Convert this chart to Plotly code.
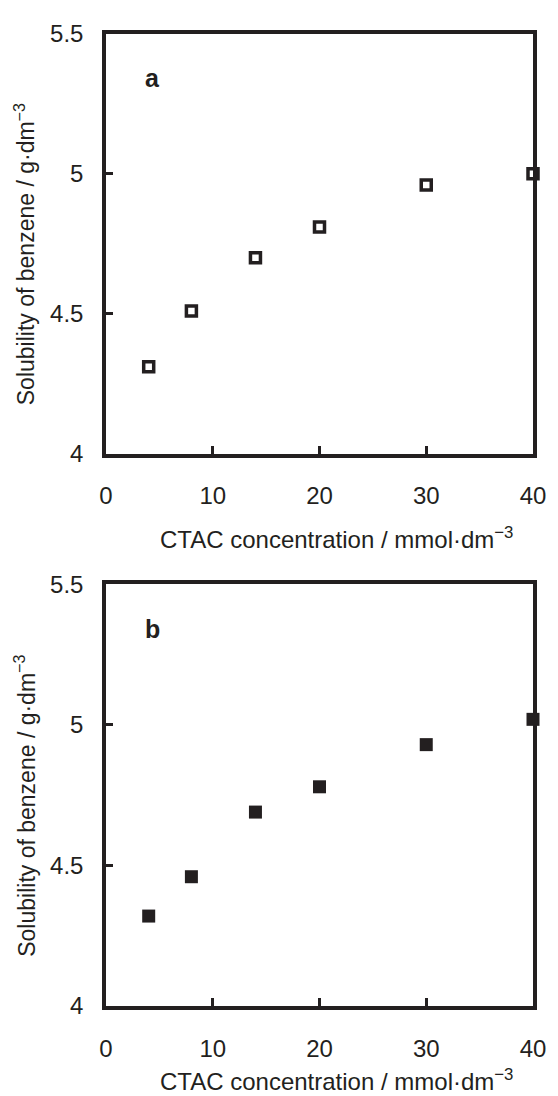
import plotly.graph_objects as go

# ---- data ----
ctac_a = [4, 8, 14, 20, 30, 40]
solub_a = [4.31, 4.51, 4.70, 4.81, 4.96, 5.00]
ctac_b = [4, 8, 14, 20, 30, 40]
solub_b = [4.32, 4.46, 4.69, 4.78, 4.93, 5.02]
x_ticks = [0, 10, 20, 30, 40]
y_ticks = [4, 4.5, 5, 5.5]
y_ticktext = ["4", "4.5", "5", "5.5"]
panel_labels = ["a", "b"]
x_title = "CTAC concentration / mmol·dm<sup>−3</sup>"
y_title = "Solubility of benzene / g·dm<sup>−3</sup>"

INK = "#231f20"
FONT = "Liberation Sans, Arial, sans-serif"

fig = go.Figure()
fig.add_trace(go.Scatter(
    x=ctac_a, y=solub_a, mode="markers", xaxis="x", yaxis="y",
    cliponaxis=False,
    marker=dict(symbol="square", size=10, color="white",
                line=dict(color=INK, width=3.5)),
    showlegend=False))
fig.add_trace(go.Scatter(
    x=ctac_b, y=solub_b, mode="markers", xaxis="x2", yaxis="y2",
    cliponaxis=False,
    marker=dict(symbol="square", size=13, color=INK,
                line=dict(color=INK, width=0)),
    showlegend=False))

xcommon = dict(range=[0, 40], tickvals=x_ticks, ticks="inside", ticklen=8,
               tickwidth=3, tickcolor=INK, showline=True, linewidth=3.5,
               linecolor=INK, mirror=True, showgrid=False, zeroline=False,
               tickfont=dict(family=FONT, size=24, color=INK),
               ticklabelstandoff=18)
ycommon = dict(range=[4, 5.5], tickvals=y_ticks, ticktext=y_ticktext,
               ticks="inside", ticklen=7, tickwidth=2.5, tickcolor=INK,
               showline=True, linewidth=3.5, linecolor=INK, mirror=True,
               showgrid=False, zeroline=False,
               tickfont=dict(family=FONT, size=24, color=INK),
               ticklabelstandoff=14)

# page body has an 8px default margin, so the figure is sized to fit the window
fig.update_layout(
    width=550, height=1088,
    margin=dict(l=98, r=17, t=18, b=90),
    paper_bgcolor="white", plot_bgcolor="white",
    xaxis=dict(**xcommon, domain=[0, 1], anchor="y"),
    yaxis=dict(**ycommon, domain=[0.5684, 1], anchor="x"),
    xaxis2=dict(**xcommon, domain=[0, 1], anchor="y2"),
    yaxis2=dict(**ycommon, domain=[0, 0.4337], anchor="x2"),
)

annos = []
for i, (yref, xref) in enumerate([("y", "x"), ("y2", "x2")]):
    annos.append(dict(text="<b>%s</b>" % panel_labels[i], xref=xref + " domain",
                      yref=yref + " domain", x=0.11, y=0.895,
                      xanchor="center", yanchor="middle", showarrow=False,
                      font=dict(family=FONT, size=25, color=INK)))
    annos.append(dict(text=x_title, xref=xref + " domain", yref=yref + " domain",
                      x=0.54, y=0, yshift=-84 if i == 0 else -74,
                      xanchor="center", yanchor="middle", showarrow=False,
                      font=dict(family=FONT, size=24, color=INK)))
    annos.append(dict(text=y_title, xref="paper", yref=yref + " domain",
                      x=0, xshift=-81, y=0.475, textangle=-90,
                      xanchor="center", yanchor="middle", showarrow=False,
                      font=dict(family=FONT, size=23, color=INK)))
fig.update_layout(annotations=annos)

fig.write_html("out.html")
